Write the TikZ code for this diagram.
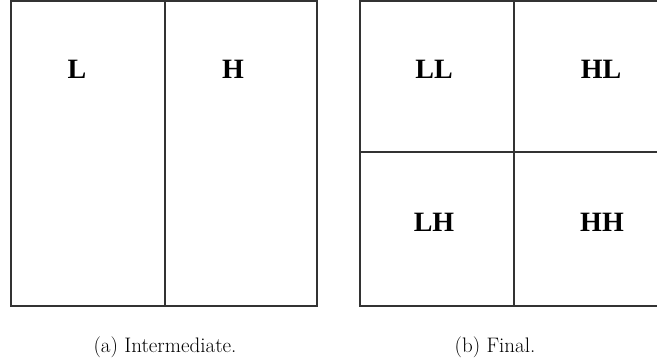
\documentclass[tikz,border=0pt]{standalone}
\usepackage{fontspec}
\newfontfamily\labfont{Liberation Serif}
\tikzset{
  grid/.style={draw=black!80, line width=1.8pt},
  lab/.style={font=\labfont\bfseries\fontsize{28}{30}\selectfont, inner sep=0pt},
  captxt/.style={font=\fontsize{21}{25}\selectfont, inner sep=0pt, anchor=base}
}
\begin{document}
\begin{tikzpicture}[x=1pt,y=-1pt]
\useasboundingbox (0,0) rectangle (657,362);
% left figure
\coordinate (a1) at (11,1);
\coordinate (a2) at (317,306);
\draw[grid] (a1) rectangle (a2);
\coordinate (am1) at (165,1);
\coordinate (am2) at (165,306);
\draw[grid] (am1) -- (am2);
\node[lab] (L) at (77,69) {L};
\node[lab] (H) at (233,69) {H};
% right figure
\begin{scope}
\clip (340,-5) rectangle (657,320);
\coordinate (b1) at (360,1);
\coordinate (b2) at (670,306);
\draw[grid] (b1) rectangle (b2);
\coordinate (bm1) at (514,1);
\coordinate (bm2) at (514,306);
\draw[grid] (bm1) -- (bm2);
\coordinate (bh1) at (360,152);
\coordinate (bh2) at (670,152);
\draw[grid] (bh1) -- (bh2);
\end{scope}
\node[lab] (LL) at (434,69) {LL};
\node[lab] (HL) at (601,69) {HL};
\node[lab] (LH) at (434,222) {LH};
\node[lab] (HH) at (602,222) {HH};
% captions
\node[captxt] (ca) at (165,352) {(a) Intermediate.};
\node[captxt] (cb) at (495,352) {(b) Final.};
\end{tikzpicture}
\end{document}
